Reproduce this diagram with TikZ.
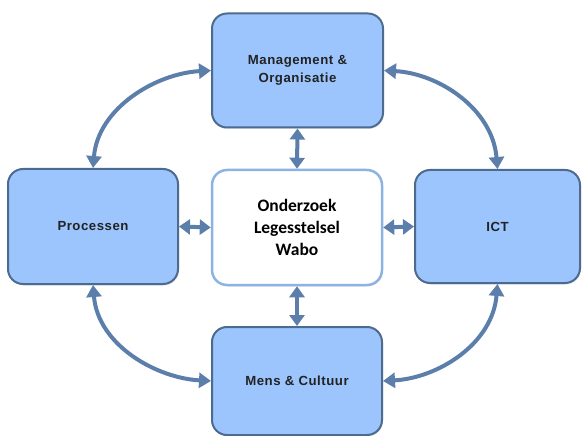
\documentclass[tikz,border=0pt]{standalone}
\usepackage{fontspec}
\setmainfont{Liberation Sans}
\newfontfamily\boxfont[LetterSpace=4]{Liberation Sans}
\newfontfamily\centerfont{Carlito}
\usetikzlibrary{arrows.meta,shadows}
\definecolor{boxfill}{HTML}{9CC5FD}
\definecolor{boxline}{HTML}{4C6B8F}
\definecolor{arrowc}{HTML}{5B7EAB}
\definecolor{centerline}{HTML}{8CB3E3}
\definecolor{boxtext}{HTML}{222222}
\tikzset{
  outerbox/.style={draw=boxline, fill=boxfill, line width=2pt, rounded corners=15pt,
    align=center, text=boxtext, font=\boxfont\bfseries\fontsize{13.2}{18}\selectfont,
    drop shadow={opacity=0.2, shadow xshift=1pt, shadow yshift=-1.5pt}},
  centerbox/.style={draw=centerline, fill=white, line width=2.5pt, rounded corners=15pt,
    align=center, font=\centerfont\bfseries\fontsize{17.5}{22}\selectfont,
    drop shadow={opacity=0.15, shadow xshift=1pt, shadow yshift=-1.5pt}},
  bigarrow/.style={draw=arrowc, line width=4pt,
    {Triangle[width=15pt,length=12pt]}-{Triangle[width=15pt,length=12pt]}},
  shortarrow/.style={draw=arrowc, line width=4pt,
    {Triangle[width=15pt,length=11pt]}-{Triangle[width=15pt,length=11pt]}}
}
\begin{document}
\begin{tikzpicture}[x=1pt,y=-1pt]
\useasboundingbox (0,0) rectangle (582,436);
\node[outerbox, minimum width=171pt, minimum height=114pt] (top) at (297.5,70.5) {Management \&\\Organisatie};
\node[outerbox, minimum width=170pt, minimum height=115pt] (left) at (93,226.5) {Processen};
\node[outerbox, minimum width=165pt, minimum height=113pt] (right) at (497.5,226.5) {ICT};
\node[outerbox, minimum width=170pt, minimum height=108pt] (bottom) at (297,381) {Mens \& Cultuur};
\node[centerbox, minimum width=170pt, minimum height=115pt] (center) at (297,227.5) {Onderzoek\\Legesstelsel\\Wabo};

\draw[bigarrow] (top.west) .. controls +(-55,3) and +(5,-60) .. (left.north);
\draw[bigarrow] (top.east) .. controls +(55,3) and +(-5,-60) .. (right.north);
\draw[bigarrow] (left.south) .. controls +(5,60) and +(-55,-3) .. (bottom.west);
\draw[bigarrow] (right.south) .. controls +(-5,60) and +(55,-3) .. (bottom.east);

\draw[shortarrow] (top.south) -- (center.north);
\draw[shortarrow] (center.south) -- (bottom.north);
\draw[shortarrow] (left.east) -- (center.west);
\draw[shortarrow] (center.east) -- (right.west);
\end{tikzpicture}
\end{document}
